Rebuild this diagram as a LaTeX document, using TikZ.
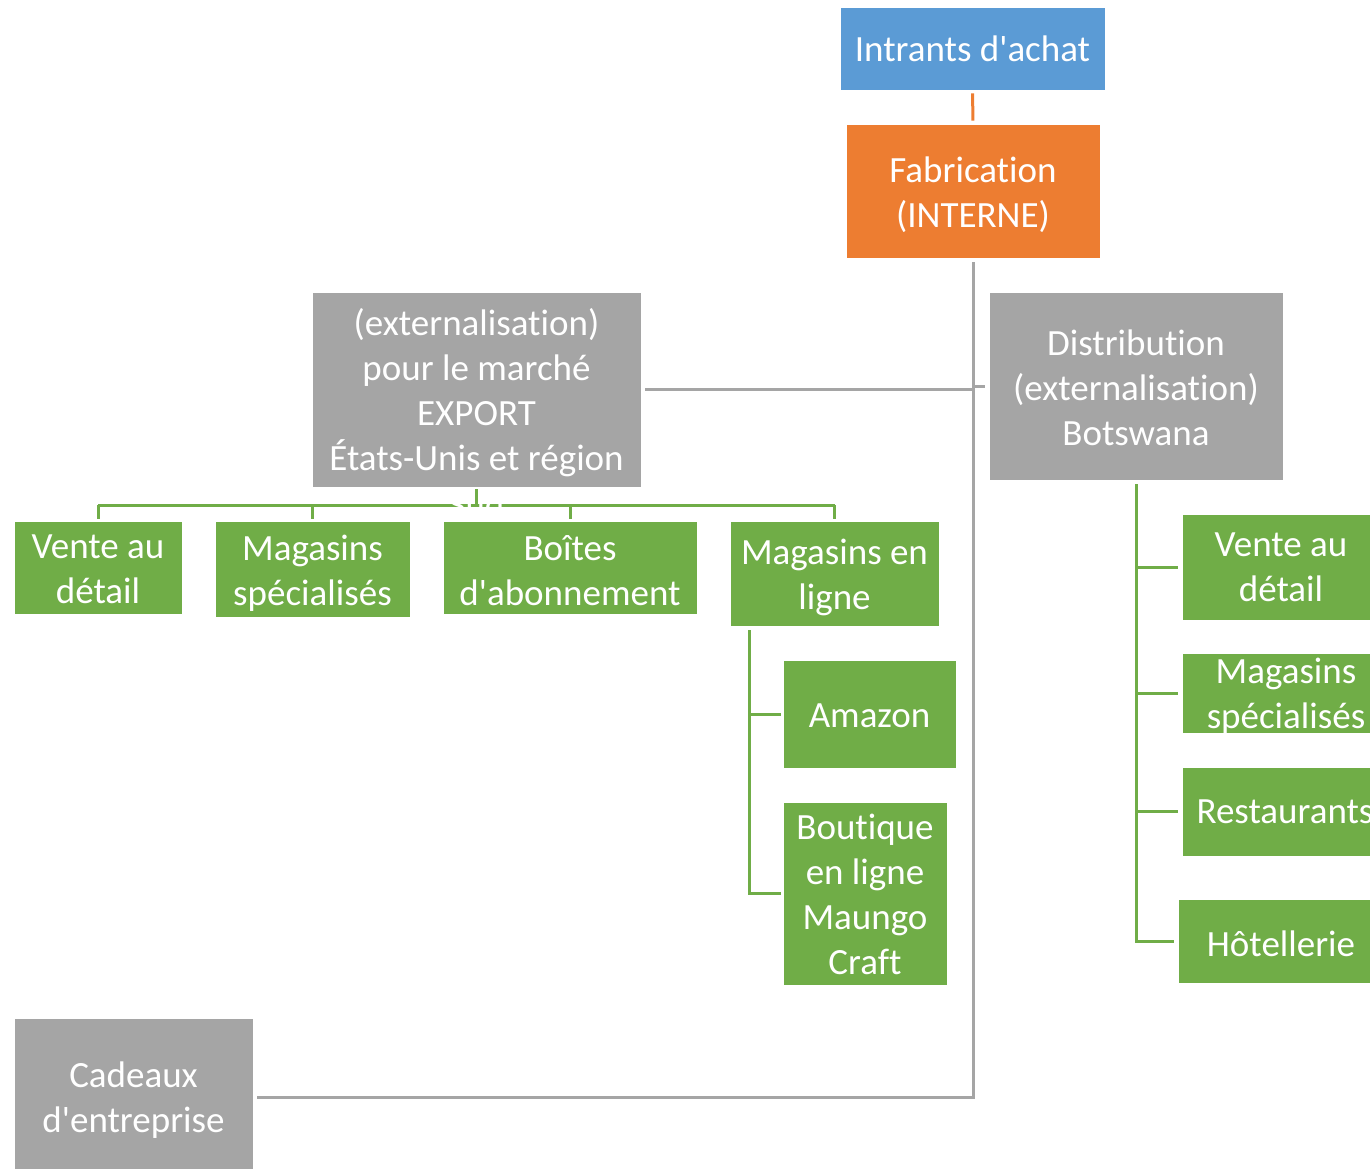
\documentclass[tikz,border=0pt]{standalone}
\usepackage{fontspec}
\setmainfont{Carlito}[Ligatures={TeXOff,CommonOff}]
\definecolor{cblue}{HTML}{5B9BD5}
\definecolor{corange}{HTML}{ED7D31}
\definecolor{cgrey}{HTML}{A5A5A5}
\definecolor{cgreen}{HTML}{70AD47}
\newcommand\upstrut[1]{\rule{0pt}{#1pt}}
\begin{document}
\begin{tikzpicture}[x=0.75pt,y=-0.75pt,
  box/.style={rectangle,draw=white,line width=0.6pt,inner sep=0pt,align=center,text=white,
    font=\fontsize{27.75pt}{33.75pt}\selectfont},
  bluebox/.style={box,fill=cblue},
  orangebox/.style={box,fill=corange},
  greybox/.style={box,fill=cgrey},
  greenbox/.style={box,fill=cgreen},
  gline/.style={draw=cgrey,line width=2.25pt},
  grline/.style={draw=cgreen,line width=2.25pt},
  oline/.style={draw=corange,line width=2.25pt}]
\useasboundingbox (0,0) rectangle (1370,1168);
% top
\node[bluebox,minimum width=198.75pt,minimum height=62.25pt] (intr) at (972.5,48.5) {Intrants d'achat};
\node[orangebox,minimum width=190.5pt,minimum height=100.5pt] (fab) at (973,191) {\upstrut{24.4}Fabrication\\(INTERNE)};
% grey level
\node[greybox,minimum width=246.75pt,minimum height=146.25pt] (exp) at (476.5,389.5) {\upstrut{25.3}(externalisation)\\pour le marché\\EXPORT\\États-Unis et région};
\node[greybox,minimum width=220.5pt,minimum height=141pt] (dist) at (1136,386) {\upstrut{22.2}Distribution\\(externalisation)\\Botswana};
\node[greybox,minimum width=179.25pt,minimum height=118.5pt] (cad) at (133.5,1097) {\upstrut{23.7}Cadeaux\\d'entreprise};
% export children
\node[greenbox,minimum width=126pt,minimum height=69.75pt] (v1) at (98,567.5) {\upstrut{21}Vente au\\détail};
\node[greenbox,minimum width=146.25pt,minimum height=72pt] (m1) at (312.5,569) {\upstrut{25.4}Magasins\\spécialisés};
\node[greenbox,minimum width=190.5pt,minimum height=69.75pt] (b1) at (570,567.5) {\upstrut{23}Boîtes\\d'abonnement};
\node[greenbox,minimum width=156.75pt,minimum height=78.75pt] (ml) at (834.5,573.5) {\upstrut{24.6}Magasins en\\ligne};
\node[greenbox,minimum width=129.75pt,minimum height=81pt] (amz) at (869.5,714) {\upstrut{21}Amazon};
\node[greenbox,minimum width=123pt,minimum height=137.25pt] (bout) at (865,893.5) {\upstrut{21}Boutique\\en ligne\\Maungo\\Craft};
% distribution children
\node[greenbox,minimum width=148.5pt,minimum height=79.5pt] (v2) at (1281,567) {Vente au\\détail};
\node[greenbox,minimum width=156pt,minimum height=60pt] (m2) at (1286,693) {\upstrut{20}Magasins\\\raisebox{0pt}[\height][0pt]{spécialisés}};
\node[greenbox,minimum width=154.5pt,minimum height=66.75pt] (rest) at (1285,811.5) {Restaurants};
\node[greenbox,minimum width=154.5pt,minimum height=63pt] (hot) at (1281,941) {\upstrut{23}Hôtellerie};
% connectors
\draw[oline,shorten <=2.25pt,shorten >=2.25pt] (intr.south) -- (fab.north);
\draw[gline] ([yshift=-3pt]fab.south) |- ([xshift=3pt]cad.east);
\draw[gline] ([xshift=3pt]exp.east) -- (exp.east -| fab.south);
\draw[gline] ([xshift=-3pt]dist.west) -- (dist.west -| fab.south);
\coordinate (ebus) at (476.5,505);
\draw[grline,shorten <=1.5pt] (exp.south) -- (ebus);
\draw[grline] (v1.north |- ebus) -- (ml.north |- ebus);
\foreach \c in {v1,m1,b1,ml} \draw[grline,shorten >=1.5pt] (\c.north |- ebus) -- (\c.north);
\coordinate (mlx) at ([xshift=15pt]ml.south west);
\draw[grline,shorten <=3pt,shorten >=1.5pt] (mlx) |- (amz.west);
\draw[grline,shorten <=3pt,shorten >=1.5pt] (mlx) |- (bout.west);
\foreach \c in {v2,m2,rest,hot} \draw[grline,shorten <=3pt,shorten >=3pt] (dist.south) |- (\c.west);
\node[text=white,inner sep=0pt,font=\fontsize{27.75pt}{33.75pt}\selectfont] (sud) at (476.5,505) {Sud};
\end{tikzpicture}
\end{document}
